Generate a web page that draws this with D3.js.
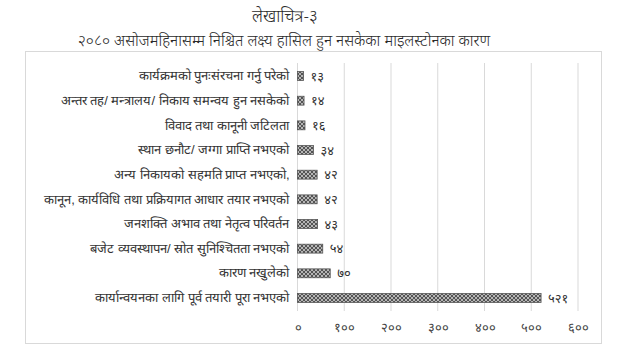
<!DOCTYPE html>
<html><head><meta charset="utf-8">
<script src="https://cdn.jsdelivr.net/npm/d3@7"></script>
<style>
body{margin:0;background:#fff;}
svg{display:block;font-family:"Noto Sans Devanagari","Noto Sans","Lohit Devanagari",sans-serif;}
</style></head>
<body><svg id="c" width="623" height="355"></svg>
<script>
const title = "लेखाचित्र-३";
const subtitle = "२०८० असोजमहिनासम्म निश्चित लक्ष्य हासिल हुन नसकेका माइलस्टोनका कारण";
const categories = [
  "कार्यक्रमको पुनःसंरचना गर्नु परेको",
  "अन्तर तह/ मन्त्रालय/ निकाय समन्वय हुन नसकेको",
  "विवाद तथा कानूनी जटिलता",
  "स्थान छनौट/ जग्गा प्राप्ति नभएको",
  "अन्य निकायको सहमति प्राप्त नभएको,",
  "कानून, कार्यविधि तथा प्रक्रियागत आधार तयार नभएको",
  "जनशक्ति अभाव तथा नेतृत्व परिवर्तन",
  "बजेट व्यवस्थापन/ स्रोत सुनिश्चितता नभएको",
  "कारण नखुलेको",
  "कार्यान्वयनका लागि पूर्व तयारी पूरा नभएको"
];
const values = [13, 14, 16, 34, 42, 42, 43, 54, 70, 521];
const xTicks = [0, 100, 200, 300, 400, 500, 600];

const devDigits = "०१२३४५६७८९";
const toDev = n => String(n).replace(/[0-9]/g, d => devDigits[+d]);

const svg = d3.select("#c");
const defs = svg.append("defs");
const pat = defs.append("pattern").attr("id","hatch").attr("patternUnits","userSpaceOnUse")
  .attr("width",4).attr("height",4);
pat.append("rect").attr("width",4).attr("height",4).attr("fill","#b5b5b5");
pat.append("path").attr("d","M0,0L4,4M4,0L0,4").attr("stroke","#4a4a4a").attr("stroke-width",0.9);

// titles
svg.append("text").attr("x",285).attr("y",22).attr("text-anchor","middle")
  .attr("font-size",17).attr("font-weight",300).attr("fill","#2a2a2a").text(title);
svg.append("text").attr("x",284).attr("y",46).attr("text-anchor","middle")
  .attr("font-size",15.5).attr("font-weight",300).attr("fill","#2a2a2a").text(subtitle);

// frame
svg.append("rect").attr("x",25.5).attr("y",51.5).attr("width",576).attr("height",292)
  .attr("fill","none").attr("stroke","#d9d9d9");

const x = d3.scaleLinear().domain([0,600]).range([297.5,578]);
const y = d3.scaleBand().domain(categories).range([63.7,310.3]).paddingInner(0.64).paddingOuter(0.32);

// grid
svg.append("g").selectAll("line").data(xTicks).join("line")
  .attr("x1",d=>x(d)).attr("x2",d=>x(d)).attr("y1",63).attr("y2",311)
  .attr("stroke","#d9d9d9").attr("stroke-width",1);

// x axis labels
const xa = svg.append("g").attr("transform","translate(0,311)")
  .call(d3.axisBottom(x).tickValues(xTicks).tickFormat(toDev).tickSize(0).tickPadding(12));
xa.select(".domain").remove();
xa.selectAll("text").attr("font-size",13).attr("fill","#444").attr("font-family",null);

// y labels
const ya = svg.append("g").attr("transform","translate(297.5,0)")
  .call(d3.axisLeft(y).tickSize(0).tickPadding(8));
ya.select(".domain").remove();
ya.selectAll("text").attr("font-size",13).attr("font-weight",300).attr("fill","#333").attr("font-family",null);

// bars
svg.append("g").selectAll("rect").data(values).join("rect")
  .attr("x",x(0)).attr("y",(d,i)=>y(categories[i]))
  .attr("width",d=>x(d)-x(0)).attr("height",y.bandwidth())
  .attr("fill","url(#hatch)").attr("stroke","#555").attr("stroke-width",0.8);

// value labels
svg.append("g").selectAll("text").data(values).join("text")
  .attr("x",d=>x(d)+7).attr("y",(d,i)=>y(categories[i])+y.bandwidth()/2)
  .attr("dy","0.35em").attr("font-size",13).attr("fill","#333").text(toDev);
</script></body></html>
